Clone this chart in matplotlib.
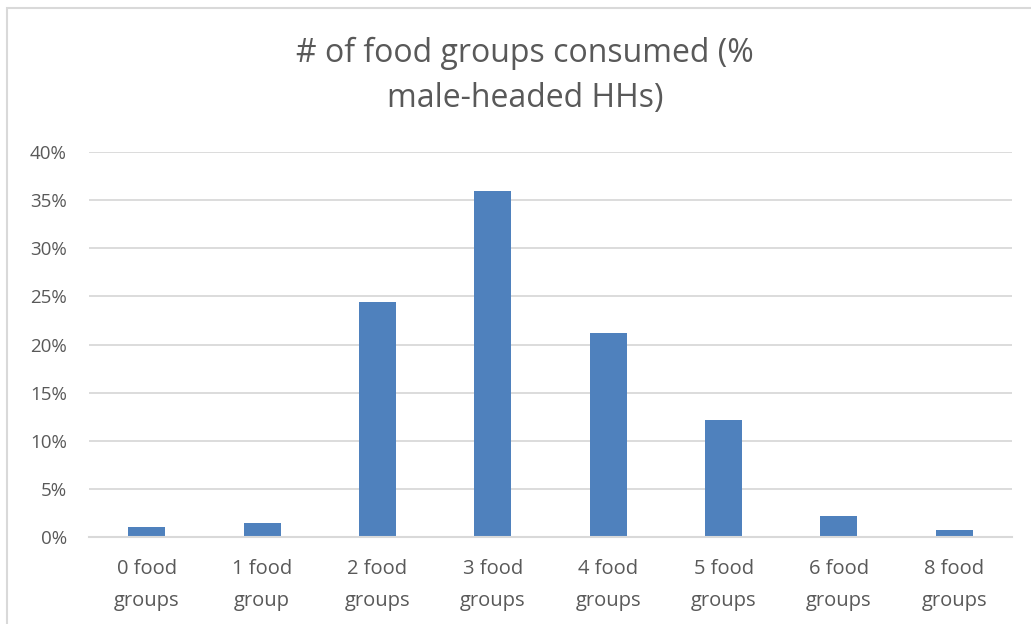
import matplotlib.pyplot as plt
from matplotlib.patches import Rectangle
from matplotlib.ticker import FuncFormatter, MultipleLocator

# Share of male-headed households by number of food groups consumed
categories = ["0 food\ngroups", "1 food\ngroup", "2 food\ngroups", "3 food\ngroups",
              "4 food\ngroups", "5 food\ngroups", "6 food\ngroups", "8 food\ngroups"]
shares = [1.07, 1.48, 24.45, 35.95, 21.2, 12.2, 2.17, 0.72]

text_color = "#595959"
bar_color = "#4f81bd"
grid_color = "#d9d9d9"

plt.rcParams["font.family"] = ["Open Sans", "DejaVu Sans"]

fig = plt.figure(figsize=(10.31, 6.24), dpi=100)
ax = fig.add_axes([89 / 1031, 1 - 537 / 624, (1012 - 89) / 1031, (537 - 152) / 624])

x = range(len(categories))
ax.bar(x, shares, width=0.32, color=bar_color, zorder=3)

ax.set_ylim(0, 40)
ax.set_xlim(-0.5, len(categories) - 0.5)
ax.yaxis.set_major_locator(MultipleLocator(5))
ax.yaxis.set_major_formatter(FuncFormatter(lambda v, _: f"{v:.0f}%"))
ax.grid(axis="y", color=grid_color, linewidth=1.3, zorder=0)

ax.set_xticks(list(x))
ax.set_xticklabels(categories, fontsize=14.5, color=text_color, linespacing=1.8)
ax.tick_params(axis="y", labelsize=13.5, colors=text_color, length=0, pad=16)
ax.tick_params(axis="x", length=0, pad=16)

for side in ["top", "right", "left"]:
    ax.spines[side].set_visible(False)
ax.spines["bottom"].set_color(grid_color)
ax.spines["bottom"].set_linewidth(1.5)
ax.spines["bottom"].set_zorder(4)

fig.text(0.509, 1 - 76 / 624, "# of food groups consumed (%\nmale-headed HHs)",
         ha="center", va="center", fontsize=23, color=text_color, linespacing=1.5)

# light frame around the chart area
fig.patches.append(Rectangle((7 / 1031, -0.05), 1.1, 1 - 7.5 / 624 + 0.05,
                             transform=fig.transFigure, fill=False,
                             edgecolor=grid_color, linewidth=1.5))

fig.savefig("out.png", dpi=100)
